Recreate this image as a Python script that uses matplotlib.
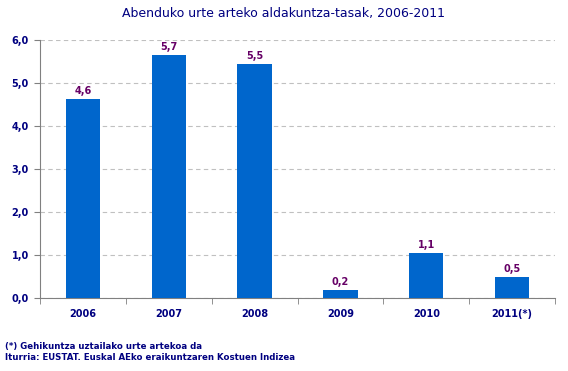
import numpy as np
import matplotlib.pyplot as plt

years = ['2006', '2007', '2008', '2009', '2010', '2011(*)']
rates = [4.63, 5.66, 5.45, 0.19, 1.04, 0.48]
labels = ['4,6', '5,7', '5,5', '0,2', '1,1', '0,5']
yticks = [0, 1, 2, 3, 4, 5, 6]

navy = '#000080'
fig = plt.figure(figsize=(5.68, 3.71), dpi=100)
ax = fig.add_axes([40/568, 1-298/371, 515/568, 258/371])

x = np.arange(len(years))
ax.bar(x, rates, width=0.4, color='#0066CC', zorder=3)
for xi, v, lab in zip(x, rates, labels):
    ax.text(xi, v + 0.07, lab, ha='center', va='bottom', fontsize=7,
            fontweight='bold', color='#660066')

ax.set_xlim(-0.5, len(years) - 0.5)
ax.set_ylim(0, 6)
ax.set_yticks(yticks)
ax.set_yticklabels([f'{t},0' for t in yticks], fontsize=7, fontweight='bold', color=navy)
ax.set_xticks(x)
ax.set_xticklabels(years, fontsize=7, fontweight='bold', color=navy)
ax.tick_params(axis='x', length=0, pad=8)
ax.set_xticks(np.arange(-0.5, len(years)), minor=True)
ax.tick_params(axis='x', which='minor', length=4, color='#808080')
ax.tick_params(axis='y', length=4, color='#808080', pad=4)
ax.yaxis.grid(True, linestyle=(0, (4, 3)), color='#C0C0C0', linewidth=0.8, zorder=0)

for s in ['top', 'right']:
    ax.spines[s].set_visible(False)
for s in ['left', 'bottom']:
    ax.spines[s].set_color('#808080')

fig.text(0.5, 1-14/371, 'Abenduko urte arteko aldakuntza-tasak, 2006-2011', ha='center',
         va='center', fontsize=9, color=navy)
fig.text(5/568, 1-346/371, '(*) Gehikuntza uztailako urte artekoa da', fontsize=6.2,
         fontweight='bold', color=navy, va='center')
fig.text(5/568, 1-358/371, 'Iturria: EUSTAT. Euskal AEko eraikuntzaren Kostuen Indizea',
         fontsize=6.2, fontweight='bold', color=navy, va='center')

fig.savefig('out.png', dpi=100)
